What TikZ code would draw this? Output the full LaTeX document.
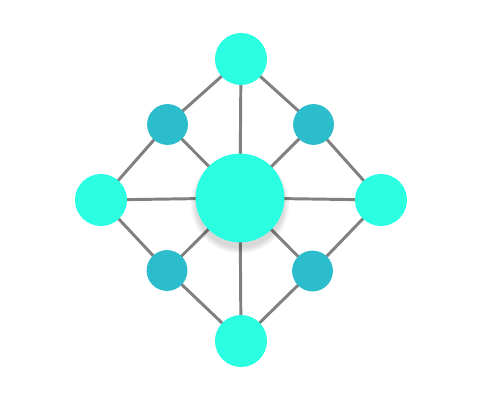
\documentclass[tikz,border=0pt]{standalone}
\usepackage{xcolor}
\usepackage{tikz}
\usetikzlibrary{backgrounds}

\definecolor{hubcol}{HTML}{2BFFE2}
\definecolor{subcol}{HTML}{2BBDCC}
\definecolor{edgecol}{HTML}{808080}

\begin{document}
\begin{tikzpicture}[
    x=0.025cm, y=-0.025cm,
    hub/.style={circle, fill=hubcol, inner sep=0pt, minimum size=2.22cm},
    outer/.style={circle, fill=hubcol, inner sep=0pt, minimum size=1.3cm},
    inner/.style={circle, fill=subcol, inner sep=0pt, minimum size=1.02cm},
    edge/.style={draw=edgecol, line width=2.1pt}
]
    \useasboundingbox (0,0) rectangle (480,400);

    % Soft shadow of the centre
    \foreach \r in {49,47.5,...,44}
        \fill[black, opacity=0.04] (240,204) circle (\r);

    % Centre
    \node[hub] (centre) at (240,198) {};

    % Outer ring
    \node[outer] (top) at (241,59) {};
    \node[outer] (bottom) at (241,341) {};
    \node[outer] (left) at (101,200) {};
    \node[outer] (right) at (381,200) {};

    % Inner ring
    \node[inner] (tl) at (167.5,124.5) {};
    \node[inner] (tr) at (313.5,124.5) {};
    \node[inner] (bl) at (167,270.5) {};
    \node[inner] (br) at (312.5,271) {};

    % Edges
    \begin{pgfonlayer}{background}
        \foreach \a/\b in {top/tl, tl/left, left/bl, bl/bottom, bottom/br, br/right, right/tr, tr/top}
            \draw[edge] (\a.center) -- (\b.center);
        \foreach \n in {top, bottom, left, right, tl, tr, bl, br}
            \draw[edge] (centre.center) -- (\n.center);
    \end{pgfonlayer}
\end{tikzpicture}
\end{document}
